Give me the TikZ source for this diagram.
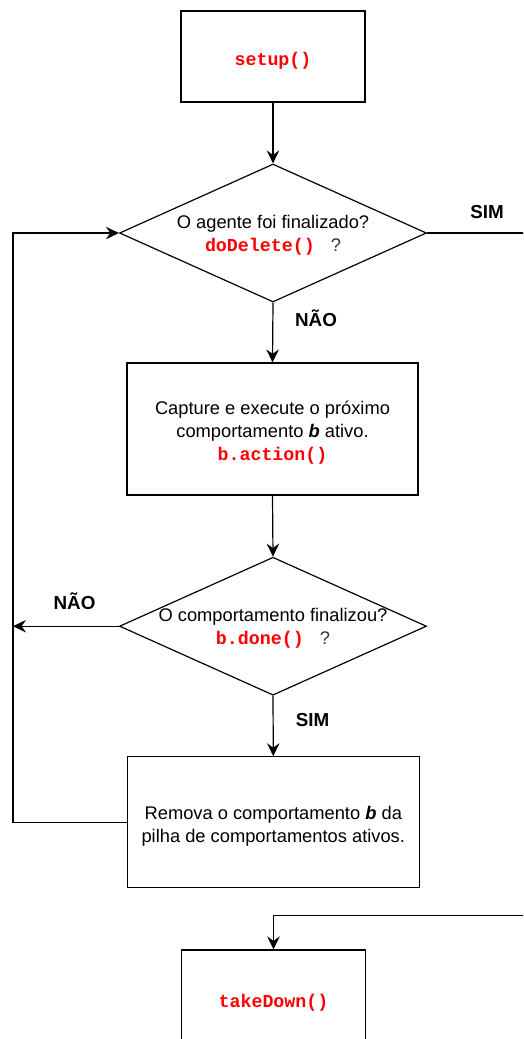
\documentclass[tikz,border=0pt]{standalone}
\usepackage{fontspec}
\setmainfont{Liberation Sans}
\setmonofont{Liberation Mono}
\usetikzlibrary{shapes.geometric,arrows.meta}
\definecolor{codered}{HTML}{FF0000}
\definecolor{qgray}{HTML}{333333}
\newcommand{\code}[1]{{\ttfamily\bfseries\color{codered}#1}}
\newcommand{\vb}{\textbf{\textit{b}}}
\begin{document}
\begin{tikzpicture}[x=1pt,y=-1pt,
  every node/.style={font=\fontsize{18.3}{23}\selectfont},
  box/.style={draw, line width=1.2pt, rectangle, inner sep=0pt},
  decision/.style={draw, line width=1.2pt, diamond, inner sep=0pt,
    minimum width=307pt, minimum height=138pt},
  boxtext/.style={align=center, yshift=-4pt},
  asktext/.style={align=center, yshift=-2pt},
  flow/.style={line width=1.2pt, -{Stealth[length=13pt,width=12.5pt,inset=4.5pt]}},
  link/.style={line width=1.2pt},
  answer/.style={font=\fontsize{18.8}{23}\selectfont\bfseries, inner sep=0pt,
    text height=0.72em, text depth=0pt, anchor=center}
]
\useasboundingbox (0,0) rectangle (523,1039);
\clip (0,0) rectangle (523,1039);

% main flow
\node[box, minimum width=184pt, minimum height=91pt,
  label={[boxtext]center:{\code{setup()}}}] (setup) at (273,56.5) {};

\node[decision, label={[asktext]center:{O agente foi finalizado?\\
  \code{doDelete()}\hspace{16pt}{\color{qgray}?}}}] (d1) at (273,233) {};

\node[box, minimum width=291pt, minimum height=132pt,
  label={[boxtext]center:{Capture e execute o próximo\\
  comportamento \vb{} ativo.\\ \code{b.action()}}}] (act) at (272.5,429) {};

\node[decision, label={[asktext]center:{O comportamento finalizou?\\
  \code{b.done()}\hspace{16pt}{\color{qgray}?}}}] (d2) at (273,626.2) {};

\node[box, minimum width=292pt, minimum height=131pt,
  label={[boxtext]center:{Remova o comportamento \vb{} da\\
  pilha de comportamentos ativos.}}] (rem) at (273.3,822.3) {};

\node[box, minimum width=184pt, minimum height=100pt,
  label={[align=center, yshift=-3pt]center:{\code{takeDown()}}}] (td) at (273.5,1000) {};

% connectors
\draw[flow] (setup) -- (d1.north);
\draw[flow] (d1.south) -- (act.north);
\draw[flow] (act.south) -- (d2.north);
\draw[flow] (d2.south) -- (rem.north);

\coordinate (loopbot) at (13,822.3);
\coordinate (looptop) at (13,233);
\draw[flow] (rem.west) -- (loopbot) -- (looptop) -- (d1.west);

\coordinate (noend) at (13,626.2);
\draw[flow] (d2.west) -- (noend);

\coordinate (simend) at (524,233);
\draw[link] (d1.east) -- (simend);

\coordinate (tdin) at (524,915.7);
\coordinate (tdbend) at (273.5,915.7);
\draw[flow] (tdin) -- (tdbend) -- (td.north);

% branch labels
\node[answer] (simtop) at (487,215) {SIM};
\node[answer] (naotop) at (316,323) {NÃO};
\node[answer] (naoleft) at (74.5,606) {NÃO};
\node[answer] (simmid) at (312.5,723) {SIM};
\end{tikzpicture}
\end{document}
